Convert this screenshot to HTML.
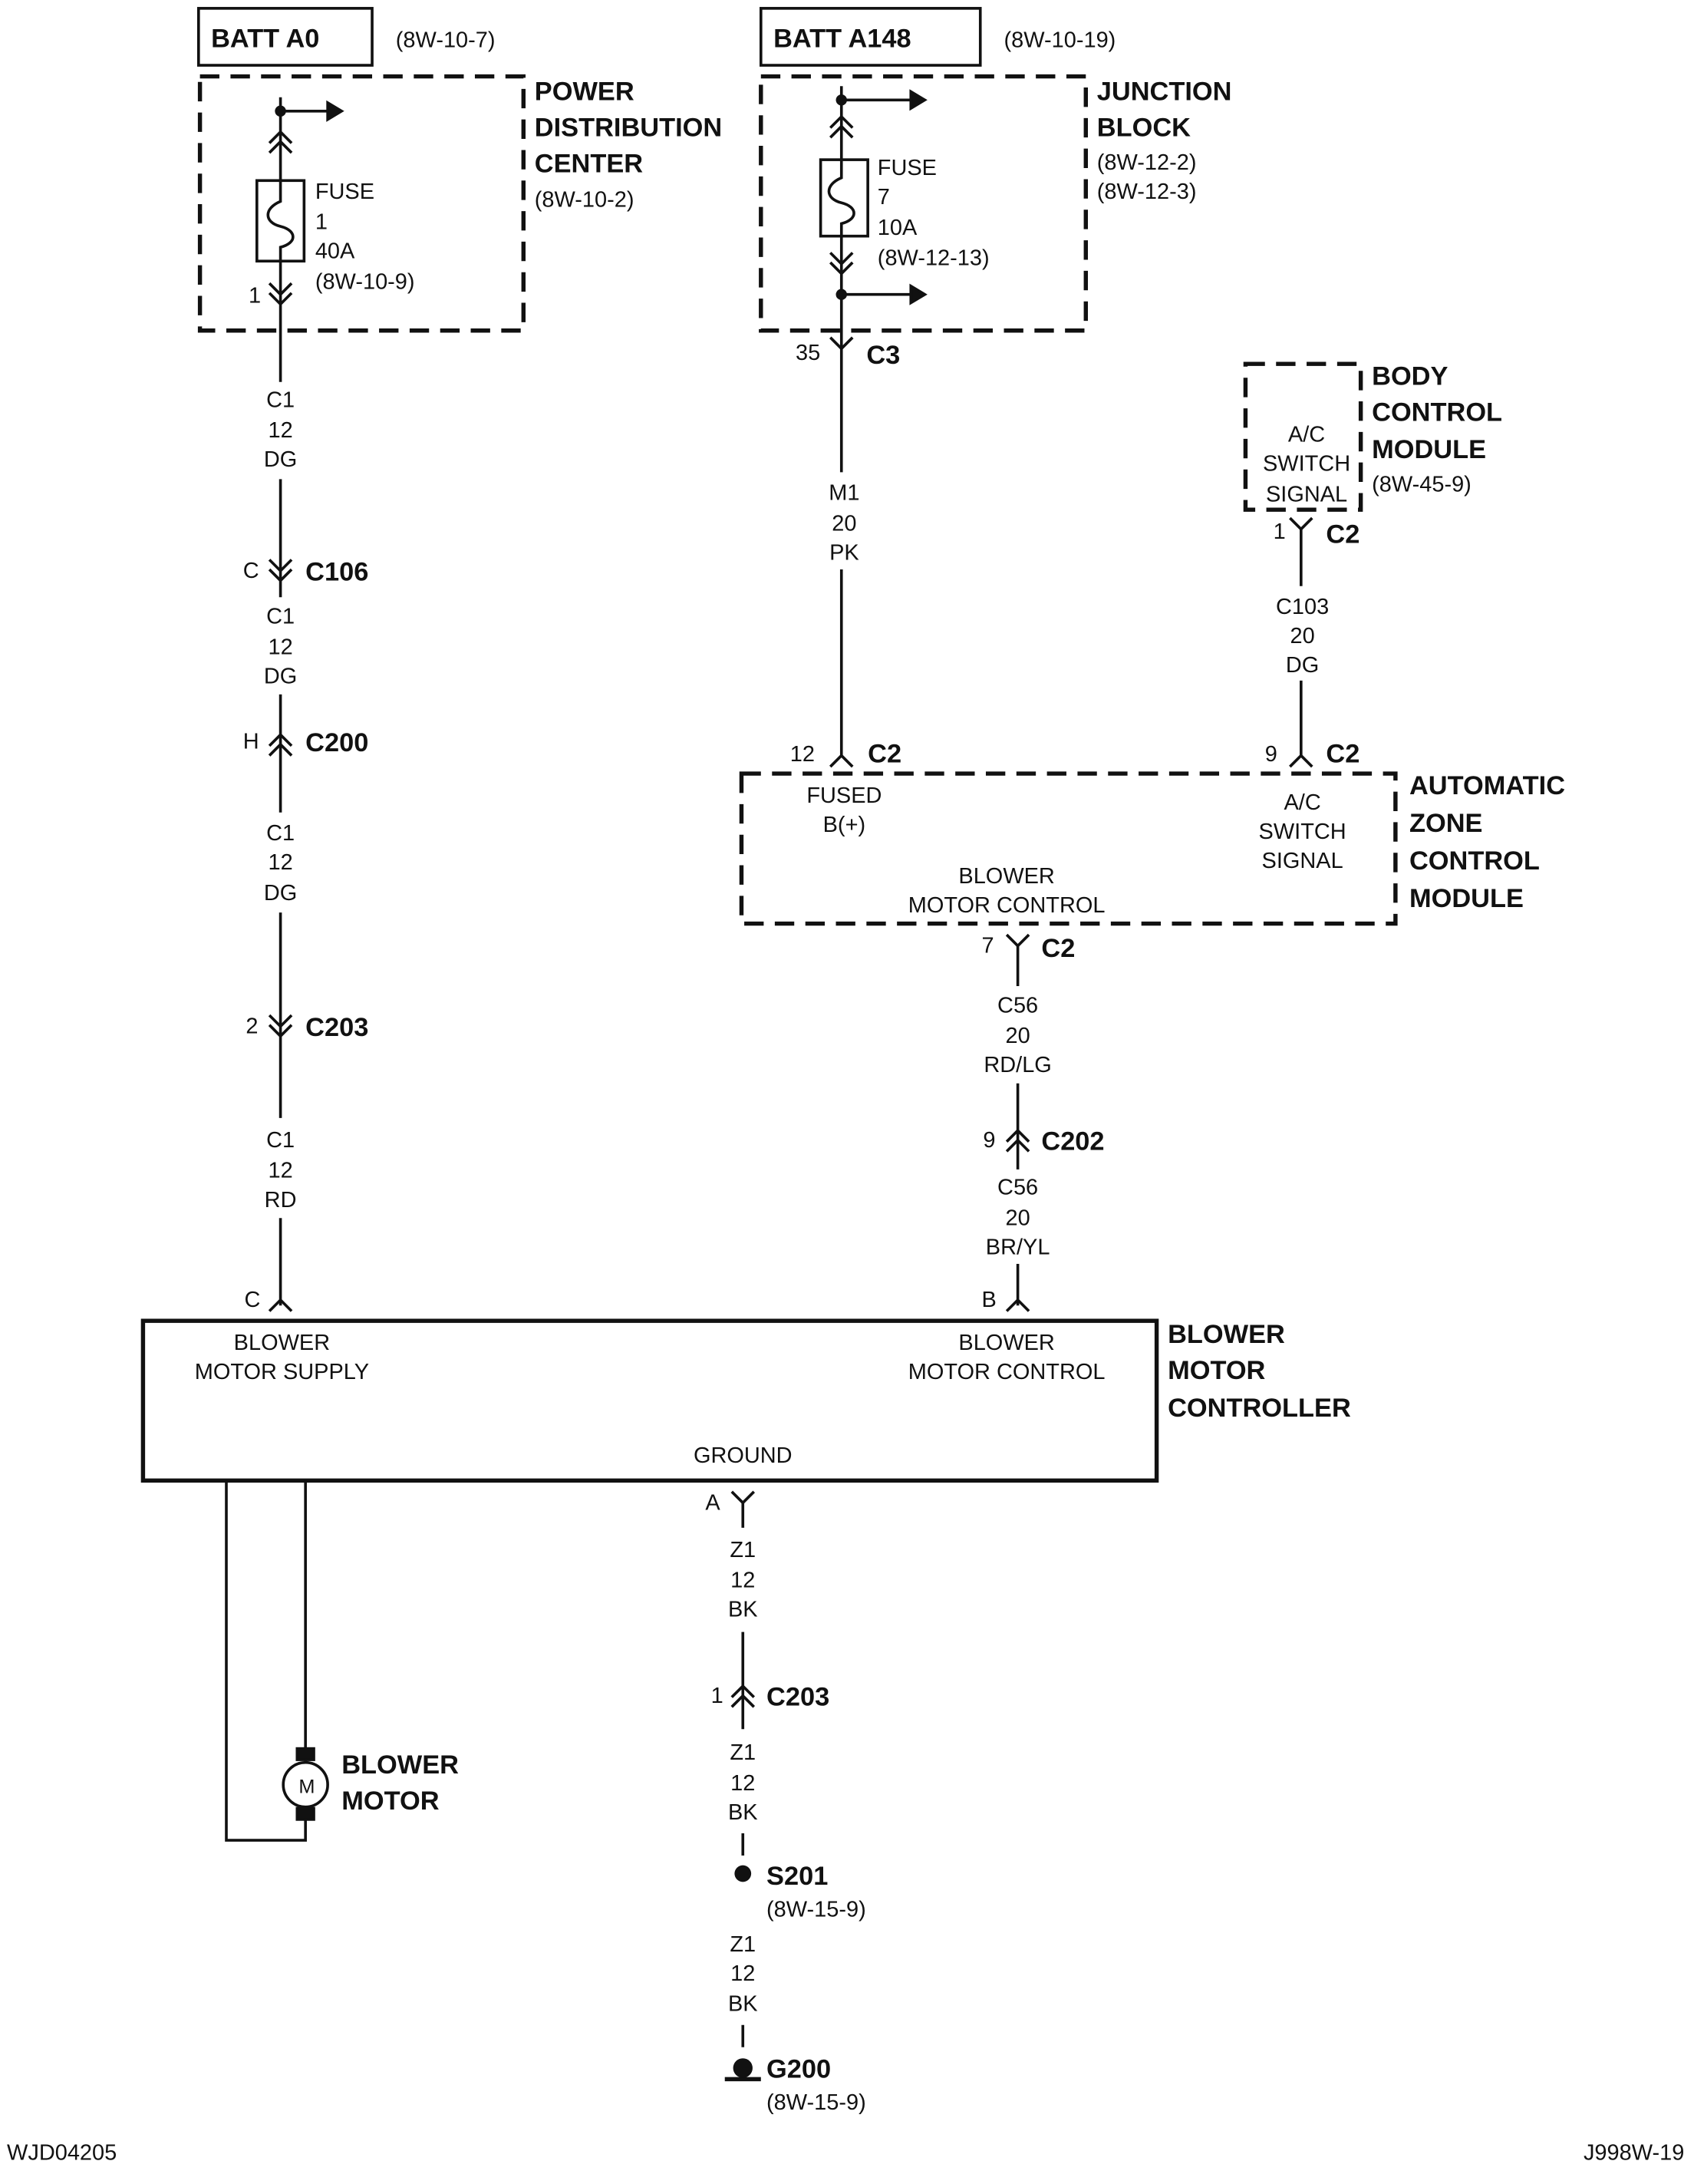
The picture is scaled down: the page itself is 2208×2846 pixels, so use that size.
<!DOCTYPE html>
<html><head><meta charset="utf-8"><style>
html,body{margin:0;padding:0;background:#fff;}
svg{display:block;}
text{font-family:"Liberation Sans Narrow","Liberation Sans",sans-serif;fill:#111;}
.s{font-size:16px;}
.b{font-size:19px;font-weight:bold;}
.m{text-anchor:middle;}
</style></head><body>
<svg width="2208" height="2846" viewBox="0 0 1220 1572.5" preserveAspectRatio="none" xmlns="http://www.w3.org/2000/svg">
<rect width="1220" height="1573" fill="#fff"/>
<g stroke="#111" stroke-width="2" fill="none">
<!-- LEFT -->
<rect x="143" y="6" width="125" height="41"/>
<rect x="144" y="55" width="233" height="183" stroke-dasharray="14,8" stroke-width="3"/>
<line x1="202" y1="70" x2="202" y2="130"/>
<line x1="202" y1="80" x2="240" y2="80"/>
<path d="M236 74 L246 80 L236 86 Z" fill="#111"/>
<path d="M194 103 L202 95 L210 103 M194 110 L202 102 L210 110"/>
<rect x="185" y="130" width="34" height="58"/>
<path d="M202 130 L202 145 C190 150 190 160 202 163 C214 166 214 175 202 178 L202 188"/>
<line x1="202" y1="188" x2="202" y2="275"/>
<line x1="202" y1="345" x2="202" y2="430"/>
<line x1="202" y1="500" x2="202" y2="585"/>
<line x1="202" y1="657" x2="202" y2="805"/>
<line x1="202" y1="877" x2="202" y2="940"/>
<path d="M194 204 L202 212 L210 204 M194 211 L202 219 L210 211"/>
<path d="M194 403 L202 411 L210 403 M194 410 L202 418 L210 410"/>
<path d="M194 537 L202 529 L210 537 M194 544 L202 536 L210 544"/>
<path d="M194 731 L202 739 L210 731 M194 738 L202 746 L210 738"/>
<path d="M194 944 L202 936 L210 944"/>
<rect x="103" y="951" width="730" height="115" stroke-width="3"/>
<path d="M163 1066 L163 1325 L220 1325 L220 1302 M220 1066 L220 1268"/>
<circle cx="220" cy="1285" r="16"/>
<rect x="214" y="1259" width="12" height="8" fill="#111"/>
<rect x="214" y="1302" width="12" height="8" fill="#111"/>
<!-- ground -->
<path d="M527 1074 L535 1082 L543 1074"/>
<line x1="535" y1="1082" x2="535" y2="1100"/>
<line x1="535" y1="1175" x2="535" y2="1245"/>
<path d="M527 1222 L535 1214 L543 1222 M527 1229 L535 1221 L543 1229"/>
<line x1="535" y1="1320" x2="535" y2="1336"/>
<line x1="535" y1="1458" x2="535" y2="1474"/>
<line x1="522" y1="1497" x2="548" y2="1497" stroke-width="3"/>
<!-- RIGHT -->
<rect x="548" y="6" width="158" height="41"/>
<rect x="548" y="55" width="234" height="183" stroke-dasharray="14,8" stroke-width="3"/>
<line x1="606" y1="62" x2="606" y2="115"/>
<line x1="606" y1="72" x2="660" y2="72"/>
<path d="M656 66 L666 72 L656 78 Z" fill="#111"/>
<path d="M598 92 L606 84 L614 92 M598 99 L606 91 L614 99"/>
<rect x="591" y="115" width="34" height="55"/>
<path d="M606 115 L606 128 C594 133 594 143 606 146 C618 149 618 158 606 161 L606 170"/>
<line x1="606" y1="170" x2="606" y2="340"/>
<line x1="606" y1="410" x2="606" y2="545"/>
<path d="M598 182 L606 190 L614 182 M598 189 L606 197 L614 189"/>
<line x1="606" y1="212" x2="660" y2="212"/>
<path d="M656 206 L666 212 L656 218 Z" fill="#111"/>
<path d="M598 243 L606 251 L614 243"/>
<path d="M598 552 L606 544 L614 552"/>
<rect x="897" y="262" width="83" height="105" stroke-dasharray="14,8" stroke-width="3"/>
<path d="M929 373 L937 381 L945 373"/>
<line x1="937" y1="381" x2="937" y2="422"/>
<line x1="937" y1="490" x2="937" y2="545"/>
<path d="M929 552 L937 544 L945 552"/>
<rect x="534" y="557" width="471" height="108" stroke-dasharray="14,8" stroke-width="3"/>
<path d="M725 673 L733 681 L741 673"/>
<line x1="733" y1="681" x2="733" y2="710"/>
<line x1="733" y1="780" x2="733" y2="842"/>
<line x1="733" y1="910" x2="733" y2="940"/>
<path d="M725 822 L733 814 L741 822 M725 829 L733 821 L741 829"/>
<path d="M725 944 L733 936 L741 944"/>
</g>
<g fill="#111">
<circle cx="202" cy="80" r="4"/><circle cx="606" cy="72" r="4"/><circle cx="606" cy="212" r="4"/>
<circle cx="535" cy="1349" r="6"/><circle cx="535" cy="1489" r="7"/>
</g>
<!-- text -->
<text class="b" x="152" y="34">BATT A0</text>
<text class="s" x="285" y="34">(8W-10-7)</text>
<text class="b" x="385" y="72">POWER</text>
<text class="b" x="385" y="98">DISTRIBUTION</text>
<text class="b" x="385" y="124">CENTER</text>
<text class="s" x="385" y="149">(8W-10-2)</text>
<text class="s" x="227" y="143">FUSE</text><text class="s" x="227" y="165">1</text>
<text class="s" x="227" y="186">40A</text><text class="s" x="227" y="208">(8W-10-9)</text>
<text class="s" x="179" y="218">1</text>
<text class="s m" x="202" y="293">C1</text><text class="s m" x="202" y="315">12</text><text class="s m" x="202" y="336">DG</text>
<text class="s" x="175" y="416">C</text><text class="b" x="220" y="418">C106</text>
<text class="s m" x="202" y="449">C1</text><text class="s m" x="202" y="471">12</text><text class="s m" x="202" y="492">DG</text>
<text class="s" x="175" y="539">H</text><text class="b" x="220" y="541">C200</text>
<text class="s m" x="202" y="605">C1</text><text class="s m" x="202" y="626">12</text><text class="s m" x="202" y="648">DG</text>
<text class="s" x="177" y="744">2</text><text class="b" x="220" y="746">C203</text>
<text class="s m" x="202" y="826">C1</text><text class="s m" x="202" y="848">12</text><text class="s m" x="202" y="869">RD</text>
<text class="s" x="176" y="941">C</text>
<text class="s m" x="203" y="972">BLOWER</text><text class="s m" x="203" y="993">MOTOR SUPPLY</text>
<text class="s m" x="725" y="972">BLOWER</text><text class="s m" x="725" y="993">MOTOR CONTROL</text>
<text class="s m" x="535" y="1053">GROUND</text>
<text class="b" x="841" y="967">BLOWER</text><text class="b" x="841" y="993">MOTOR</text><text class="b" x="841" y="1020">CONTROLLER</text>
<text class="s m" x="221" y="1291" style="font-size:14px">M</text>
<text class="b" x="246" y="1277">BLOWER</text><text class="b" x="246" y="1303">MOTOR</text>
<text class="s" x="508" y="1087">A</text>
<text class="s m" x="535" y="1121">Z1</text><text class="s m" x="535" y="1143">12</text><text class="s m" x="535" y="1164">BK</text>
<text class="s" x="512" y="1226">1</text><text class="b" x="552" y="1228">C203</text>
<text class="s m" x="535" y="1267">Z1</text><text class="s m" x="535" y="1289">12</text><text class="s m" x="535" y="1310">BK</text>
<text class="b" x="552" y="1357">S201</text><text class="s" x="552" y="1380">(8W-15-9)</text>
<text class="s m" x="535" y="1405">Z1</text><text class="s m" x="535" y="1426">12</text><text class="s m" x="535" y="1448">BK</text>
<text class="b" x="552" y="1496">G200</text><text class="s" x="552" y="1519">(8W-15-9)</text>
<text class="s" x="5" y="1555">WJD04205</text>
<text class="s" x="1213" y="1555" style="text-anchor:end">J998W-19</text>
<text class="b" x="557" y="34">BATT A148</text>
<text class="s" x="723" y="34">(8W-10-19)</text>
<text class="b" x="790" y="72">JUNCTION</text><text class="b" x="790" y="98">BLOCK</text>
<text class="s" x="790" y="122">(8W-12-2)</text><text class="s" x="790" y="143">(8W-12-3)</text>
<text class="s" x="632" y="126">FUSE</text><text class="s" x="632" y="147">7</text>
<text class="s" x="632" y="169">10A</text><text class="s" x="632" y="191">(8W-12-13)</text>
<text class="s" x="573" y="259">35</text><text class="b" x="624" y="262">C3</text>
<text class="s m" x="608" y="360">M1</text><text class="s m" x="608" y="382">20</text><text class="s m" x="608" y="403">PK</text>
<text class="s" x="569" y="548">12</text><text class="b" x="625" y="549">C2</text>
<text class="s m" x="941" y="318">A/C</text><text class="s m" x="941" y="339">SWITCH</text><text class="s m" x="941" y="361">SIGNAL</text>
<text class="b" x="988" y="277">BODY</text><text class="b" x="988" y="303">CONTROL</text><text class="b" x="988" y="330">MODULE</text>
<text class="s" x="988" y="354">(8W-45-9)</text>
<text class="s" x="917" y="388">1</text><text class="b" x="955" y="391">C2</text>
<text class="s m" x="938" y="442">C103</text><text class="s m" x="938" y="463">20</text><text class="s m" x="938" y="484">DG</text>
<text class="s" x="911" y="548">9</text><text class="b" x="955" y="549">C2</text>
<text class="s m" x="608" y="578">FUSED</text><text class="s m" x="608" y="599">B(+)</text>
<text class="s m" x="938" y="583">A/C</text><text class="s m" x="938" y="604">SWITCH</text><text class="s m" x="938" y="625">SIGNAL</text>
<text class="s m" x="725" y="636">BLOWER</text><text class="s m" x="725" y="657">MOTOR CONTROL</text>
<text class="b" x="1015" y="572">AUTOMATIC</text><text class="b" x="1015" y="599">ZONE</text>
<text class="b" x="1015" y="626">CONTROL</text><text class="b" x="1015" y="653">MODULE</text>
<text class="s" x="707" y="686">7</text><text class="b" x="750" y="689">C2</text>
<text class="s m" x="733" y="729">C56</text><text class="s m" x="733" y="751">20</text><text class="s m" x="733" y="772">RD/LG</text>
<text class="s" x="708" y="826">9</text><text class="b" x="750" y="828">C202</text>
<text class="s m" x="733" y="860">C56</text><text class="s m" x="733" y="882">20</text><text class="s m" x="733" y="903">BR/YL</text>
<text class="s" x="707" y="941">B</text>
</svg>
</body></html>
